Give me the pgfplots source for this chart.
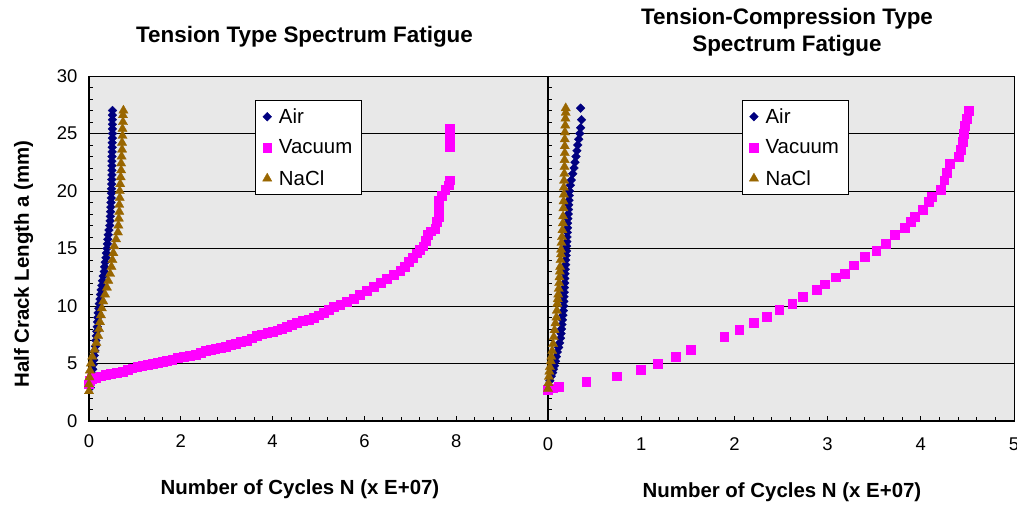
\documentclass[border=0pt]{standalone}
\usepackage{pgfplots}
\pgfplotsset{compat=1.18}
\usepackage{fontspec}
\setmainfont{Liberation Sans}
\definecolor{airc}{RGB}{0,0,128}
\definecolor{vacc}{RGB}{255,0,255}
\definecolor{naclc}{RGB}{153,102,0}
\definecolor{bgc}{RGB}{232,232,232}
\pgfplotsset{
  mybase/.style={
    scale only axis, height=345bp, ymin=0, ymax=30, ytick={0,5,...,30}, minor y tick num=4,
    ymajorgrids, major grid style={black, line width=0.8bp},
    axis background/.style={fill=bgc},
    tick align=inside, xtick pos=bottom, ytick pos=left,
    major tick length=5bp, minor tick length=4bp,
    tick style={black, line width=0.8bp},
    axis line style={line width=0.9bp},
    tick label style={font=\fontsize{18.5}{20}\selectfont},
    /pgf/number format/assume math mode=true,
    xticklabel style={yshift=-10bp},
    yticklabel style={xshift=-8bp},
    clip=false,
    legend cell align=left,
    legend style={draw=black, line width=0.8bp, fill=white, anchor=north west,
      font=\fontsize{20.5}{22}\selectfont, inner xsep=7bp, inner ysep=6bp, row sep=11bp,
      column sep=5bp},
  },
  airst/.style={only marks, color=airc, mark=square*, mark size=3.1bp,
    mark options={rotate=45, fill=airc, draw=airc, line width=0.3bp}},
  vacst/.style={only marks, color=vacc, mark=square*, mark size=4.4bp,
    mark options={fill=vacc, draw=vacc, line width=0.3bp}},
  naclst/.style={only marks, color=naclc, mark=triangle*, mark size=5.4bp,
    mark options={fill=naclc, draw=naclc, line width=0.3bp}},
}
\begin{document}
\begin{tikzpicture}
\begin{axis}[mybase, name=L, at={(0,0)}, anchor=south west, width=459bp,
  xmin=0, xmax=10, xtick={0,2,4,6,8,10}, xticklabels={0,2,4,6,8,{}}, minor x tick num=4,
  legend style={at={(0.362,0.93)}}]
\addplot[airst] table {
0.03 2.9
0.04 3.3
0.055 3.7
0.07 4.1
0.08 4.5
0.09 4.9
0.105 5.3
0.115 5.7
0.13 6.1
0.14 6.5
0.15 7.0
0.16 7.4
0.17 7.8
0.18 8.2
0.185 8.6
0.19 9.0
0.20 9.4
0.215 9.8
0.225 10.2
0.24 10.6
0.25 11.0
0.265 11.4
0.28 11.8
0.295 12.2
0.31 12.6
0.33 13.0
0.34 13.4
0.355 13.8
0.37 14.2
0.38 14.6
0.39 15.0
0.40 15.4
0.41 15.8
0.42 16.2
0.435 16.6
0.45 17.0
0.46 17.4
0.465 17.8
0.47 18.2
0.475 18.6
0.48 19.0
0.485 19.4
0.49 19.8
0.49 20.2
0.495 20.6
0.495 21.0
0.50 21.4
0.50 21.8
0.50 22.2
0.50 22.6
0.50 23.0
0.505 23.4
0.505 23.8
0.505 24.2
0.51 24.6
0.51 25.0
0.51 25.4
0.51 25.8
0.51 26.2
0.51 26.6
0.51 27.0
};
\addlegendentry{Air}
\addplot[vacst] table {
0.0 3.2
0.02 3.5
0.05 3.7
0.15 3.8
0.25 3.9
0.36 4.0
0.47 4.1
0.6 4.2
0.73 4.3
0.84 4.45
0.94 4.6
1.05 4.7
1.16 4.8
1.27 4.9
1.38 5.0
1.5 5.08
1.6 5.16
1.7 5.26
1.81 5.36
1.94 5.48
2.07 5.6
2.2 5.7
2.32 5.8
2.43 5.95
2.54 6.1
2.65 6.2
2.75 6.3
2.86 6.4
2.97 6.5
3.08 6.62
3.19 6.75
3.31 6.88
3.44 7.0
3.55 7.2
3.66 7.4
3.77 7.55
3.88 7.7
4.0 7.8
4.1 7.9
4.2 8.05
4.31 8.2
4.42 8.38
4.53 8.55
4.66 8.7
4.78 8.84
4.9 9.0
5.0 9.2
5.11 9.4
5.22 9.65
5.33 9.94
5.47 10.15
5.62 10.37
5.76 10.65
5.9 10.96
6.05 11.3
6.2 11.68
6.35 12.05
6.49 12.4
6.64 12.75
6.78 13.1
6.87 13.45
6.96 13.85
7.05 14.2
7.14 14.6
7.21 14.9
7.28 15.2
7.33 15.7
7.37 16.2
7.45 16.5
7.54 16.75
7.58 17.3
7.61 17.8
7.61 18.3
7.61 18.8
7.62 19.2
7.68 19.6
7.76 20.1
7.83 20.5
7.85 20.95
7.85 23.85
7.85 24.4
7.85 24.9
7.85 25.45
};
\addlegendentry{Vacuum}
\addplot[naclst] table {
0.0 2.6
0.0 3.2
0.01 3.8
0.02 4.4
0.04 5.0
0.07 5.6
0.12 6.2
0.16 6.8
0.2 7.4
0.22 8.0
0.24 8.6
0.26 9.2
0.28 9.8
0.31 10.4
0.35 11.0
0.39 11.6
0.42 12.2
0.46 12.8
0.49 13.4
0.51 14.0
0.53 14.6
0.55 15.2
0.59 15.8
0.63 16.4
0.64 17.0
0.65 17.6
0.66 18.2
0.66 18.8
0.67 19.4
0.67 20.0
0.68 20.6
0.69 21.2
0.70 21.8
0.70 22.4
0.71 23.0
0.72 23.6
0.72 24.2
0.73 24.8
0.73 25.4
0.74 26.0
0.74 26.6
0.75 27.0
};
\addlegendentry{NaCl}
\draw[line width=1.8bp] (rel axis cs:0,1) -- (rel axis cs:0,0) -- (rel axis cs:1,0);
\end{axis}
\begin{axis}[mybase, name=R, at={(459bp,0)}, anchor=south west, width=466bp,
  xmin=0, xmax=5, xtick={0,1,2,3,4,5}, minor x tick num=4, yticklabels={},
  xticklabel style={yshift=-3bp},
  legend style={at={(0.416,0.93)}}]
\addplot[airst] table {
0.00 2.7
0.01 3.1
0.02 3.5
0.035 3.9
0.05 4.2
0.06 4.5
0.07 4.8
0.08 5.2
0.09 5.6
0.10 6.0
0.115 6.4
0.125 6.8
0.135 7.2
0.14 7.6
0.145 8.0
0.15 8.4
0.155 8.8
0.16 9.2
0.165 9.6
0.17 10.0
0.17 10.4
0.172 10.8
0.175 11.2
0.177 11.6
0.18 12.0
0.18 12.4
0.182 12.8
0.185 13.2
0.19 13.6
0.19 14.0
0.195 14.4
0.20 14.8
0.20 15.2
0.202 15.6
0.205 16.0
0.207 16.4
0.21 16.8
0.21 17.2
0.213 17.6
0.217 18.0
0.22 18.4
0.222 18.8
0.225 19.2
0.228 19.6
0.23 20.0
0.24 20.5
0.25 20.95
0.265 21.5
0.28 22.0
0.29 22.5
0.30 23.0
0.31 23.5
0.32 24.0
0.33 24.5
0.34 25.0
0.35 25.5
0.36 26.2
0.35 27.2
};
\addlegendentry{Air}
\addplot[vacst] table {
0.00 2.7
0.05 2.85
0.11 2.98
0.41 3.42
0.74 3.9
0.99 4.5
1.18 4.98
1.37 5.59
1.53 6.17
1.89 7.36
2.05 7.97
2.21 8.55
2.35 9.05
2.48 9.65
2.62 10.2
2.73 10.8
2.88 11.45
2.97 11.9
3.09 12.5
3.18 12.8
3.28 13.55
3.40 14.28
3.52 14.8
3.62 15.4
3.72 16.2
3.83 16.8
3.89 17.35
3.93 17.8
4.02 18.35
4.08 19.1
4.12 19.5
4.21 20.15
4.25 20.95
4.28 21.6
4.31 22.4
4.41 23.0
4.43 23.6
4.45 24.3
4.46 25.0
4.47 25.7
4.49 26.3
4.51 27.0
};
\addlegendentry{Vacuum}
\addplot[naclst] table {
0.00 2.8
0.005 3.3
0.01 3.85
0.015 4.3
0.02 4.7
0.03 5.2
0.036 5.6
0.045 6.1
0.055 6.7
0.062 7.3
0.07 7.9
0.08 8.5
0.09 9.0
0.095 9.6
0.10 10.2
0.105 10.6
0.11 11.0
0.115 11.5
0.12 12.0
0.123 12.5
0.127 13.0
0.13 13.4
0.135 14.0
0.14 14.5
0.14 14.9
0.145 15.5
0.15 16.0
0.155 16.6
0.16 17.2
0.162 17.8
0.165 18.5
0.167 19.1
0.17 19.7
0.17 20.3
0.172 20.9
0.175 21.5
0.177 22.1
0.178 22.7
0.18 23.3
0.18 23.9
0.18 24.5
0.182 25.1
0.185 25.7
0.187 26.3
0.19 26.8
0.19 27.2
};
\addlegendentry{NaCl}
\draw[line width=1.8bp] (rel axis cs:0,1) -- (rel axis cs:0,0) -- (rel axis cs:1,0);
\end{axis}
\node[font=\fontsize{22.5}{24}\selectfont\bfseries, anchor=base] at (215.5bp,378bp) {Tension Type Spectrum Fatigue};
\node[font=\fontsize{22.5}{24}\selectfont\bfseries, anchor=base] at (698bp,396bp) {Tension-Compression Type};
\node[font=\fontsize{22.5}{24}\selectfont\bfseries, anchor=base] at (698bp,369bp) {Spectrum Fatigue};
\node[font=\fontsize{20.5}{24}\selectfont\bfseries, anchor=base] at (211bp,-73bp) {Number of Cycles N (x E+07)};
\node[font=\fontsize{20.5}{24}\selectfont\bfseries, anchor=base] at (693bp,-76bp) {Number of Cycles N (x E+07)};
\node[font=\fontsize{20.5}{24}\selectfont\bfseries, anchor=base, rotate=90] at (-60bp,157bp) {Half Crack Length a (mm)};
\pgfresetboundingbox
\path[use as bounding box] (-89bp,-86bp) rectangle (928bp,421bp);
\end{tikzpicture}
\end{document}
